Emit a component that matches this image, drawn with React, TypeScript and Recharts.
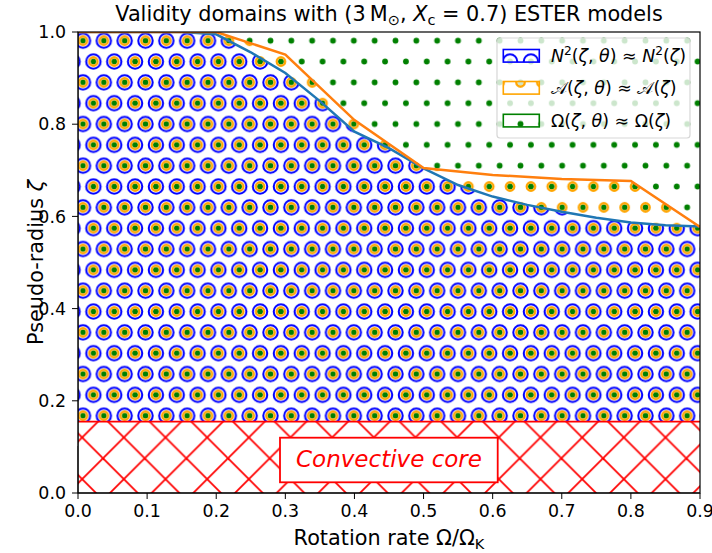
import React from "react";
import { ComposedChart, Area, Line, XAxis, YAxis } from "recharts";

// rotation rates of the model grid (fraction of Keplerian)
const rotationRates = [0, 0.05, 0.1, 0.15, 0.2, 0.25, 0.3, 0.35, 0.4, 0.45, 0.5, 0.55, 0.6, 0.65, 0.7, 0.75, 0.8, 0.85, 0.9];
// upper limit of the N2 validity domain
const n2Limit = [1.0, 1.0, 1.0, 1.0, 0.995, 0.956, 0.911, 0.85, 0.784, 0.748, 0.704, 0.668, 0.643, 0.625, 0.61, 0.597, 0.587, 0.581, 0.578];
// upper limit of the A validity domain (coarser sampling)
const acousticRates = [0, 0.1, 0.2, 0.3, 0.4, 0.5, 0.6, 0.7, 0.8, 0.9];
const acousticLimit = [1.0, 1.0, 1.0, 0.951, 0.809, 0.705, 0.69, 0.681, 0.677, 0.577];
// Omega is valid up to the surface everywhere
const omegaLimit = rotationRates.map(() => 1.0);
const coreRadius = 0.155;

const xTicks = [0, 0.1, 0.2, 0.3, 0.4, 0.5, 0.6, 0.7, 0.8, 0.9];
const yTicks = [0, 0.2, 0.4, 0.6, 0.8, 1.0];

const rows = rotationRates.map((rate, i) => {
  const j = acousticRates.findIndex((r) => Math.abs(r - rate) < 1e-9);
  return {
    rate,
    n2: n2Limit[i],
    acoustic: j >= 0 ? acousticLimit[j] : null,
    omega: omegaLimit[i],
    core: coreRadius,
  };
});

const FONT = "DejaVu Sans";
const W = 712;
const H = 553;
const PLOT = { left: 78, top: 32, right: 700, bottom: 493 };
const CELL = 125 / 6; // hatch lattice spacing
const HX = 83 - CELL / 2;
const HY = 40.7 - CELL / 2;
const HATCH_LW = 1.74;

// hatch tiles, shared by the chart and the legend (prefix keeps ids apart)
function Hatches({ prefix }: { prefix: string }) {
  const spots = [[CELL / 2, CELL / 2], [0, 1.5 * CELL], [CELL, 1.5 * CELL]];
  const ring = (r: number, color: string, sw: number) =>
    spots.map(([cx, cy], i) => <circle key={i} cx={cx} cy={cy} r={r} fill="none" stroke={color} strokeWidth={sw} />);
  return (
    <defs>
      <pattern id={`${prefix}N2`} patternUnits="userSpaceOnUse" x={HX} y={HY} width={CELL} height={2 * CELL}>
        {ring(7.2, "#0000ff", HATCH_LW + 0.3)}
      </pattern>
      <pattern id={`${prefix}A`} patternUnits="userSpaceOnUse" x={HX} y={HY} width={CELL} height={2 * CELL}>
        {ring(4.2, "#ffa500", HATCH_LW + 0.6)}
      </pattern>
      <pattern id={`${prefix}Omega`} patternUnits="userSpaceOnUse" x={HX} y={HY} width={CELL} height={2 * CELL}>
        {spots.map(([cx, cy], i) => (
          <circle key={i} cx={cx} cy={cy} r={2.9} fill="#008000" />
        ))}
      </pattern>
      <pattern id={`${prefix}Core`} patternUnits="userSpaceOnUse" x={103} y={458.3} width={2 * CELL} height={2 * CELL}>
        <rect x={0} y={0} width={2 * CELL} height={2 * CELL} fill="#fff" />
        <line x1={-2} y1={-2} x2={2 * CELL + 2} y2={2 * CELL + 2} stroke="#ff0000" strokeWidth={HATCH_LW} />
        <line x1={-2} y1={2 * CELL + 2} x2={2 * CELL + 2} y2={-2} stroke="#ff0000" strokeWidth={HATCH_LW} />
      </pattern>
    </defs>
  );
}

type Seg = { t: string; it?: boolean; shift?: number; small?: boolean };

function MathText({ x, y, size, segs, anchor = "start", fill = "#000" }: { x: number; y: number; size: number; segs: Seg[]; anchor?: string; fill?: string }) {
  let cur = 0;
  return (
    <text x={x} y={y} fontSize={size} fontFamily={FONT} textAnchor={anchor} fill={fill}>
      {segs.map((s, i) => {
        const target = (s.shift || 0) * size;
        const dy = target - cur;
        cur = target;
        return (
          <tspan key={i} dy={dy !== 0 ? dy : undefined} fontStyle={s.it ? "italic" : "normal"} fontSize={s.small ? size * 0.7 : size}>
            {s.t}
          </tspan>
        );
      })}
    </text>
  );
}

const legendItems: { pattern: string; stroke: string; label: Seg[] }[] = [
  {
    pattern: "legN2",
    stroke: "#0000ff",
    label: [{ t: "N", it: true }, { t: "2", shift: -0.4, small: true }, { t: "(" }, { t: "ζ", it: true }, { t: ", " }, { t: "θ", it: true }, { t: ") ≈ " }, { t: "N", it: true }, { t: "2", shift: -0.4, small: true }, { t: "(" }, { t: "ζ", it: true }, { t: ")" }],
  },
  {
    pattern: "legA",
    stroke: "#ffa500",
    label: [{ t: "𝒜" }, { t: "(" }, { t: "ζ", it: true }, { t: ", " }, { t: "θ", it: true }, { t: ") ≈ " }, { t: "𝒜" }, { t: "(" }, { t: "ζ", it: true }, { t: ")" }],
  },
  {
    pattern: "legOmega",
    stroke: "#008000",
    label: [{ t: "Ω(" }, { t: "ζ", it: true }, { t: ", " }, { t: "θ", it: true }, { t: ") ≈ Ω(" }, { t: "ζ", it: true }, { t: ")" }],
  },
];

function Overlay() {
  const cx = (PLOT.left + PLOT.right) / 2;
  const cy = (PLOT.top + PLOT.bottom) / 2;
  const rowY = [49.5, 81.5, 114.3];
  const yPix = (v: number) => PLOT.bottom - v * (PLOT.bottom - PLOT.top);
  return (
    <svg width={W} height={H} style={{ position: "absolute", left: 0, top: 0, pointerEvents: "none" }}>
      <Hatches prefix="leg" />
      {/* convective core label */}
      <rect x={280} y={437.7} width={217.7} height={44.6} fill="#fff" stroke="#ff0000" strokeWidth={1.8} />
      <text x={389} y={467} textAnchor="middle" fontSize={23} fontStyle="italic" fontFamily={FONT} fill="#ff0000">
        Convective core
      </text>
      {/* legend */}
      <rect x={497} y={38} width={193} height={100} rx={3} fill="#fff" fillOpacity={0.8} stroke="#cccccc" strokeOpacity={0.8} strokeWidth={1.2} />
      {legendItems.map((item, i) => (
        <g key={i}>
          <rect x={503.3} y={rowY[i]} width={36} height={12.6} fill={`url(#${item.pattern})`} stroke={item.stroke} strokeWidth={1.6} />
          <MathText x={551} y={rowY[i] + 12.5} size={17.4} segs={item.label} />
        </g>
      ))}
      {/* title */}
      <MathText
        x={cx}
        y={21}
        size={20.8}
        anchor="middle"
        segs={[
          { t: "Validity domains with (3\u2009M" },
          { t: "⊙", shift: 0.2, small: true },
          { t: ", " },
          { t: "X", it: true },
          { t: "c", shift: 0.2, small: true },
          { t: " = 0.7) ESTER models" },
        ]}
      />
      {/* x axis label */}
      <MathText x={cx} y={545} size={20.8} anchor="middle" segs={[{ t: "Rotation rate Ω/Ω" }, { t: "K", shift: 0.2, small: true }]} />
      {/* keep the margin left of the axes clean */}
      <rect x={0} y={26} width={PLOT.left - 0.5} height={420} fill="#fff" />
      <rect x={PLOT.left} y={PLOT.top} width={PLOT.right - PLOT.left} height={PLOT.bottom - PLOT.top} fill="none" stroke="#000" strokeWidth={1.2} />
      {/* y ticks */}
      {yTicks.map((v) => (
        <g key={v}>
          <line x1={PLOT.left - 6} x2={PLOT.left} y1={yPix(v)} y2={yPix(v)} stroke="#000" strokeWidth={1} />
          <text x={PLOT.left - 12} y={yPix(v) + 6.2} textAnchor="end" fontSize={17.4} fontFamily={FONT} fill="#000">
            {v.toFixed(1)}
          </text>
        </g>
      ))}
      <g transform={`rotate(-90, 43, ${cy})`}>
        <MathText x={43} y={cy} size={20.8} anchor="middle" segs={[{ t: "Pseudo-radius " }, { t: "ζ", it: true }]} />
      </g>
    </svg>
  );
}

export default function App() {
  return (
    <div style={{ position: "absolute", left: 0, top: 0, width: W, height: H, background: "#fff" }}>
      <ComposedChart width={W} height={H} data={rows} margin={{ top: PLOT.top, right: W - PLOT.right, bottom: 30, left: 18 }}>
        <Hatches prefix="hatch" />
        <Area type="linear" dataKey="omega" stroke="none" fill="url(#hatchOmega)" fillOpacity={1} isAnimationActive={false} />
        <Area type="linear" dataKey="acoustic" connectNulls stroke="none" fill="url(#hatchA)" fillOpacity={1} isAnimationActive={false} />
        <Area type="linear" dataKey="n2" stroke="none" fill="url(#hatchN2)" fillOpacity={1} isAnimationActive={false} />
        <Area type="linear" dataKey="core" stroke="#ff0000" strokeWidth={1.8} fill="url(#hatchCore)" fillOpacity={1} isAnimationActive={false} />
        <Line type="linear" dataKey="n2" stroke="#1f77b4" strokeWidth={2.5} dot={false} isAnimationActive={false} />
        <Line type="linear" dataKey="acoustic" connectNulls stroke="#ff7f0e" strokeWidth={2.5} dot={false} isAnimationActive={false} />
        <XAxis
          dataKey="rate"
          type="number"
          domain={[0, 0.9]}
          ticks={xTicks}
          allowDataOverflow
          height={30}
          tickSize={6}
          tickMargin={6}
          tickFormatter={(v: number) => v.toFixed(1)}
          tick={{ fontSize: 17.4, fontFamily: FONT, fill: "#000" }}
          axisLine={{ stroke: "#000" }}
          tickLine={{ stroke: "#000" }}
        />
        <YAxis
          type="number"
          domain={[0, 1]}
          ticks={yTicks}
          allowDataOverflow
          width={60}
          tick={false}
          tickLine={false}
          axisLine={{ stroke: "#000" }}
        />
      </ComposedChart>
      <Overlay />
    </div>
  );
}
